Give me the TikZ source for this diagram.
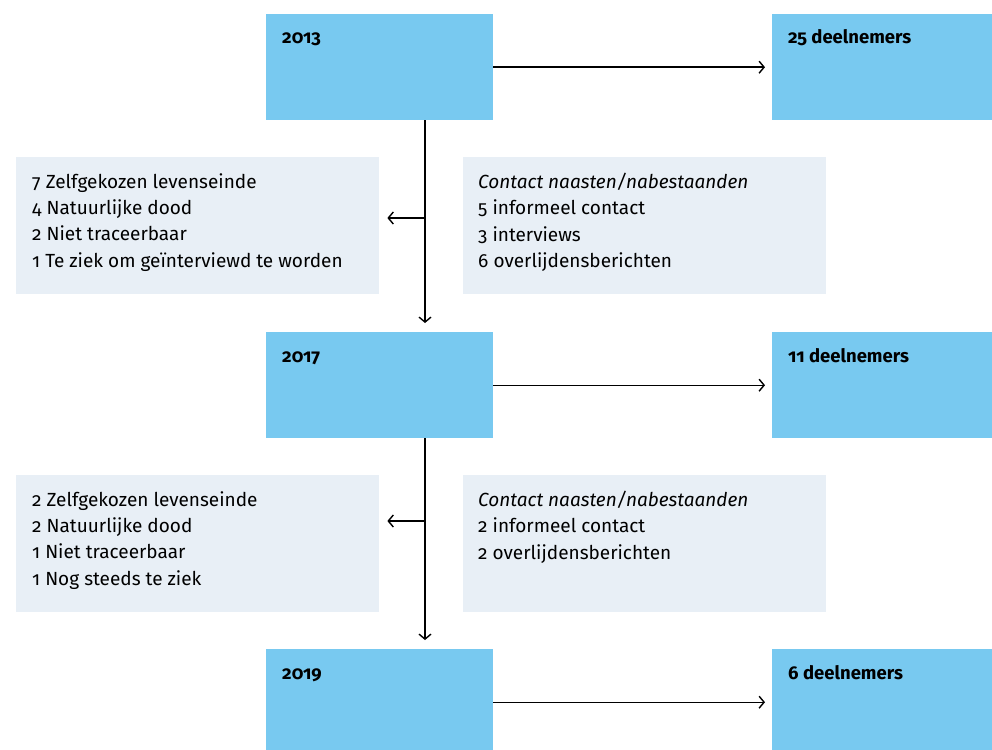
\documentclass[tikz,border=0pt]{standalone}
\usepackage{fontspec}
\setmainfont{Fira Sans}[Numbers=OldStyle,RawFeature=+onum]
\usetikzlibrary{arrows.meta}
\definecolor{yearblue}{HTML}{78C9F0}
\definecolor{infogray}{HTML}{E8EFF6}
\begin{document}
\begin{tikzpicture}[x=1pt,y=-1pt,
  bluebox/.style={fill=yearblue,draw=none,minimum width=227pt,minimum height=106pt,anchor=north west,inner sep=0pt},
  rbox/.style={fill=yearblue,draw=none,minimum width=220pt,minimum height=106pt,anchor=north west,inner sep=0pt},
  graybox/.style={fill=infogray,draw=none,minimum height=137pt,anchor=north west,inner sep=0pt},
  boxtxt/.style={anchor=base west,inner sep=0pt,font=\fontsize{18.5}{22}\selectfont\bfseries},
  listtxt/.style={anchor=north west,inner sep=0pt,align=left,font=\fontsize{19}{26.4}\selectfont},
  conn/.style={line width=1.4pt,-{Straight Barb[length=5pt,width=12pt,line width=1.4pt]}}
]
\useasboundingbox (0,0) rectangle (992,749);
% year boxes
\node[bluebox] (b13) at (266,14) {};
\node[bluebox] (b17) at (266,332) {};
\node[bluebox] (b19) at (266,649) {};
% participant boxes
\node[rbox] (d25) at (772,14) {};
\node[rbox] (d11) at (772,332) {};
\node[rbox] (d6) at (772,649) {};
% box texts
\node[boxtxt] (t13) at (282,44) {2013};
\node[boxtxt] (t17) at (282,362) {2017};
\node[boxtxt] (t19) at (282,679) {2019};
\node[boxtxt] (t25) at (788,44) {25 deelnemers};
\node[boxtxt] (t11) at (788,362) {11 deelnemers};
\node[boxtxt] (t6) at (788,679) {6 deelnemers};
% gray boxes
\node[graybox,minimum width=363pt] (l1) at (16,157) {};
\node[graybox,minimum width=363pt] (r1) at (463,157) {};
\node[graybox,minimum width=363pt] (l2) at (16,475) {};
\node[graybox,minimum width=363pt] (r2) at (463,475) {};
\node[listtxt] (lt1) at (32,173) {7 Zelfgekozen levenseinde\\4 Natuurlijke dood\\2 Niet traceerbaar\\1 Te ziek om geïnterviewd te worden};
\node[listtxt] (rt1) at (478,173) {\textit{Contact naasten/nabestaanden}\\5 informeel contact\\3 interviews\\6 overlijdensberichten};
\node[listtxt] (lt2) at (32,491) {2 Zelfgekozen levenseinde\\2 Natuurlijke dood\\1 Niet traceerbaar\\1 Nog steeds te ziek};
\node[listtxt] (rt2) at (478,491) {\textit{Contact naasten/nabestaanden}\\2 informeel contact\\2 overlijdensberichten};
% connectors
\draw[conn,shorten >=7pt] (b13.east) -- (d25.west);
\draw[conn,shorten >=7pt] (b17.east) -- (d11.west);
\draw[conn,shorten >=7pt] (b19.east) -- (d6.west);
\coordinate (s13) at (425,120);
\coordinate (s17) at (425,438);
\draw[conn,shorten >=9pt] (s13) -- (s13 |- b17.north);
\draw[conn,shorten >=9pt] (s17) -- (s17 |- b19.north);
\coordinate (j1) at (425,218);
\coordinate (j2) at (425,521);
\draw[conn,shorten >=8pt] (j1) -- (j1 -| l1.east);
\draw[conn,shorten >=8pt] (j2) -- (j2 -| l2.east);
\end{tikzpicture}
\end{document}
